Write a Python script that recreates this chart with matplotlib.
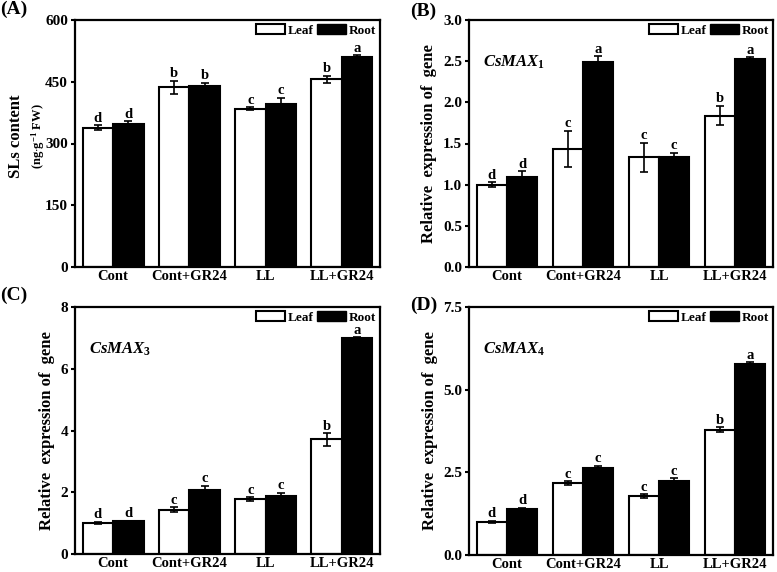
import numpy as np
import matplotlib.pyplot as plt
from matplotlib.patches import Patch

groups = ["Cont", "Cont+GR24", "LL", "LL+GR24"]

# (A) SLs content
sls_leaf = [338, 437, 385, 456]
sls_leaf_err = [6, 16, 3, 8]
sls_root = [348, 440, 396, 509]
sls_root_err = [6, 8, 15, 5]
sls_leaf_let = ["d", "b", "c", "b"]
sls_root_let = ["d", "b", "c", "a"]

# (B) CsMAX1
max1_leaf = [1.00, 1.43, 1.33, 1.84]
max1_leaf_err = [0.03, 0.22, 0.18, 0.12]
max1_root = [1.09, 2.49, 1.34, 2.525]
max1_root_err = [0.07, 0.07, 0.05, 0.02]
max1_leaf_let = ["d", "c", "c", "b"]
max1_root_let = ["d", "a", "c", "a"]

# (C) CsMAX3
max3_leaf = [1.00, 1.43, 1.78, 3.71]
max3_leaf_err = [0.04, 0.08, 0.05, 0.2]
max3_root = [1.06, 2.06, 1.89, 7.0]
max3_root_err = [0.02, 0.15, 0.1, 0.02]
max3_leaf_let = ["d", "c", "c", "b"]
max3_root_let = ["d", "c", "c", "a"]

# (D) CsMAX4
max4_leaf = [1.00, 2.17, 1.78, 3.79]
max4_leaf_err = [0.03, 0.06, 0.05, 0.07]
max4_root = [1.39, 2.64, 2.23, 5.79]
max4_root_err = [0.03, 0.05, 0.09, 0.04]
max4_leaf_let = ["d", "c", "c", "b"]
max4_root_let = ["d", "c", "c", "a"]

plt.rcParams["font.family"] = ["Liberation Serif", "DejaVu Serif"]
plt.rcParams["font.weight"] = "bold"
plt.rcParams["mathtext.fontset"] = "custom"
plt.rcParams["mathtext.rm"] = "Liberation Serif:bold"
plt.rcParams["mathtext.it"] = "Liberation Serif:bold:italic"
plt.rcParams["mathtext.bf"] = "Liberation Serif:bold"

fig = plt.figure(figsize=(7.77, 5.72), dpi=100)
W, H = 777, 572


def add_ax(l, t, r, b):
    return fig.add_axes([l / W, 1 - b / H, (r - l) / W, (b - t) / H])


def draw_panel(ax, leaf, leaf_err, root, root_err, leaf_let, root_let, ymax, ticks, fmt):
    x = np.arange(len(groups))
    w = 0.4
    ax.bar(x - w / 2, leaf, w, color="white", edgecolor="black", linewidth=1.5)
    ax.bar(x + w / 2, root, w, color="black", edgecolor="black", linewidth=1.5)
    ax.errorbar(x - w / 2, leaf, yerr=leaf_err, fmt="none", ecolor="black",
                elinewidth=1.2, capsize=3, capthick=1.2)
    ax.errorbar(x + w / 2, root, yerr=root_err, fmt="none", ecolor="black",
                elinewidth=1.2, capsize=3, capthick=1.2)
    for i in range(len(groups)):
        ax.annotate(leaf_let[i], (x[i] - w / 2, leaf[i] + leaf_err[i]),
                    xytext=(0, 0.5), textcoords="offset points",
                    ha="center", va="bottom", fontsize=10.5, fontweight="bold")
        ax.annotate(root_let[i], (x[i] + w / 2, root[i] + root_err[i]),
                    xytext=(0, 0.5), textcoords="offset points",
                    ha="center", va="bottom", fontsize=10.5, fontweight="bold")
    ax.set_xlim(-0.5, 3.5)
    ax.set_ylim(0, ymax)
    ax.set_yticks(ticks)
    ax.set_yticklabels([fmt.format(t) for t in ticks])
    ax.set_xticks(x)
    ax.set_xticklabels(groups)
    ax.tick_params(axis="x", length=0, labelsize=10.5, pad=2)
    ax.tick_params(axis="y", direction="out", length=3, width=1.5, labelsize=11, pad=2)
    for s in ax.spines.values():
        s.set_linewidth(1.6)
    handles = [Patch(facecolor="white", edgecolor="black", linewidth=1.5, label="Leaf"),
               Patch(facecolor="black", edgecolor="black", label="Root")]
    ax.legend(handles=handles, loc="upper right", ncol=2, frameon=False,
              fontsize=9.5, handlelength=2.2, handleheight=0.85,
              handletextpad=0.2, columnspacing=0.3, borderaxespad=0.15,
              borderpad=0.15)


axA = add_ax(75, 20, 380, 267)
draw_panel(axA, sls_leaf, sls_leaf_err, sls_root, sls_root_err, sls_leaf_let,
           sls_root_let, 600, [0, 150, 300, 450, 600], "{:g}")
axA.text(-0.195, 0.53, "SLs content", transform=axA.transAxes, rotation=90,
         ha="center", va="center", fontsize=12, fontweight="bold")
axA.text(-0.12, 0.53, r"(ng$\cdot$g$^{-1}$ FW)", transform=axA.transAxes, rotation=90,
         ha="center", va="center", fontsize=9, fontweight="bold")

axB = add_ax(469, 20, 773, 267)
draw_panel(axB, max1_leaf, max1_leaf_err, max1_root, max1_root_err, max1_leaf_let,
           max1_root_let, 3.0, [0, 0.5, 1.0, 1.5, 2.0, 2.5, 3.0], "{:.1f}")
axB.text(0.045, 0.83, r"$\mathit{CsMAX}_{\mathit{1}}$", transform=axB.transAxes,
         ha="left", va="center", fontsize=12)

axC = add_ax(75, 307, 380, 554)
draw_panel(axC, max3_leaf, max3_leaf_err, max3_root, max3_root_err, max3_leaf_let,
           max3_root_let, 8, [0, 2, 4, 6, 8], "{:g}")
axC.text(0.045, 0.83, r"$\mathit{CsMAX}_{\mathit{3}}$", transform=axC.transAxes,
         ha="left", va="center", fontsize=12)

axD = add_ax(469, 307, 773, 555)
draw_panel(axD, max4_leaf, max4_leaf_err, max4_root, max4_root_err, max4_leaf_let,
           max4_root_let, 7.5, [0, 2.5, 5.0, 7.5], "{:.1f}")
axD.text(0.045, 0.83, r"$\mathit{CsMAX}_{\mathit{4}}$", transform=axD.transAxes,
         ha="left", va="center", fontsize=12)

for ax in (axB, axC, axD):
    ax.set_ylabel("Relative  expression of  gene", fontsize=12, fontweight="bold", labelpad=4)

for lab, (px, py) in zip(["(A)", "(B)", "(C)", "(D)"],
                         [(0, 1), (410, 3), (0, 287), (410, 297)]):
    fig.text(px / W, 1 - py / H, lab, ha="left", va="top", fontsize=14, fontweight="bold")

fig.savefig("out.png", dpi=100)
